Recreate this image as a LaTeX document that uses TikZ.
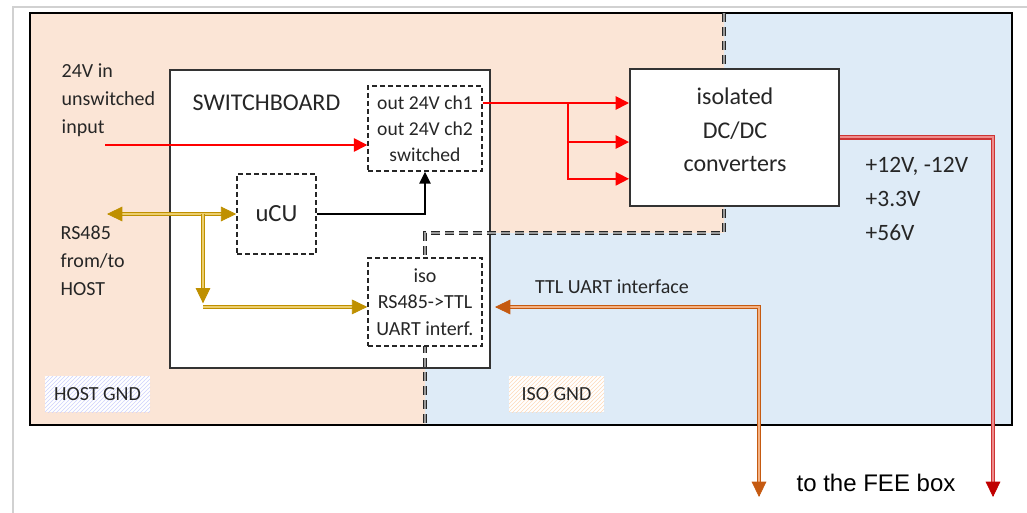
\documentclass[tikz,border=0pt]{standalone}
\usepackage{fontspec}
\setmainfont{Carlito}
\newfontfamily\arialfont{Liberation Sans}
\usetikzlibrary{arrows.meta,patterns}
\definecolor{peach}{RGB}{251,229,214}
\definecolor{paleblue}{RGB}{222,235,247}
\definecolor{gold}{RGB}{191,144,0}
\definecolor{goldlight}{RGB}{236,206,110}
\definecolor{rust}{RGB}{197,90,17}
\definecolor{rustlight}{RGB}{244,177,131}
\definecolor{darkred}{RGB}{192,0,0}
\definecolor{pinkred}{RGB}{238,140,140}
\definecolor{ink}{RGB}{38,38,38}
\begin{document}
\begin{tikzpicture}[x=0.75pt,y=-0.75pt,
    font=\fontsize{15}{20}\selectfont,text=ink,
    board/.style={draw=black!80,line width=1.5pt,fill=white,inner sep=0pt},
    block/.style={draw=black!85,line width=1.1pt,dash pattern=on 4pt off 2pt,
      fill=white,align=center,inner sep=0pt},
    pwr/.style={red,line width=1.2pt,-{Triangle[length=10pt,width=10pt]}},
    ctrl/.style={black,line width=1.2pt,-{Triangle[length=9pt,width=8.5pt]}},
    bus/.style={draw=gold,line width=0.8pt,double=goldlight,double distance=1.3pt},
    ttl/.style={draw=rust,line width=0.8pt,double=rustlight,double distance=1.3pt},
    supply/.style={draw=darkred!80,line width=0.8pt,double=pinkred,double distance=1.5pt},
    tip/.style={line width=0.6pt,-{Triangle[length=11.5pt,width=11pt]}},
    gndtag/.style={minimum height=27pt,inner sep=0pt,text=ink}]
  \useasboundingbox (0,0) rectangle (1027,513);
  \draw[black!18,line width=1.5pt] (13,513) -- (13,7) -- (1027,7);
  \fill[paleblue] (30,13) rectangle (1012,425);
  \fill[peach] (30,13) -- (724,13) -- (724,233) -- (425,233) -- (425,425) -- (30,425) -- cycle;
  \draw[black,line width=2.2pt] (30,13) rectangle (1012,425);
  \node[board,minimum width=240pt,minimum height=223.5pt] (sw) at (330,219) {};
  \node[anchor=west,font=\fontsize{18}{20}\selectfont] (swname) at (188,103) {SWITCHBOARD};
  \draw[black!85,line width=0.9pt,double=black!40,double distance=0.8pt,
    dash pattern=on 7pt off 3.5pt] (724,13) -- (724,233) -- (425,233) -- (425,425);
  \node[board,minimum width=156.75pt,minimum height=102.75pt] (dcdc) at (734.5,137.5) {};
  \node[align=center,font=\fontsize{18}{25}\selectfont] (dcdcname) at (735,130)
    {isolated\\DC/DC\\converters};
  \node[block,minimum width=85.5pt,minimum height=63.75pt,
    font=\fontsize{14.7}{19.5}\selectfont] (outsw) at (425,128.5)
    {out 24V ch1\\out 24V ch2\\switched};
  \node[block,minimum width=59.25pt,minimum height=60pt,
    font=\fontsize{18.5}{20}\selectfont] (ucu) at (276.5,214) {uCU};
  \node[block,minimum width=85.5pt,minimum height=66pt] (iso) at (425,302)
    {iso\\RS485->TTL\\UART interf.};
  \node[anchor=west,align=left,font=\fontsize{15}{21}\selectfont] (vin) at (57,100)
    {24V in\\unswitched\\input};
  \node[anchor=west,align=left,font=\fontsize{15}{21}\selectfont] (host) at (56,261)
    {RS485\\from/to\\HOST};
  \node[anchor=west,align=left,font=\fontsize{17.6}{25.5}\selectfont] (volts) at (861,199)
    {+12V, -12V\\+3.3V\\+56V};
  \node (ttlname) at (612,287) {TTL UART interface};
  \node[gndtag,minimum width=78.75pt,fill=white,
    postaction={pattern=north east lines,pattern color=paleblue!60!blue!40}] (hostgnd)
    at (97.5,394) {HOST GND};
  \node[gndtag,minimum width=71.25pt,fill=white,
    postaction={pattern=north east lines,pattern color=peach!60!orange!55}] (isognd)
    at (556.5,394) {ISO GND};
  \node[font=\arialfont\fontsize{18}{20}\selectfont,text=black] (feename) at (876,483)
    {to the FEE box};
  \coordinate (in24) at (105,145);
  \coordinate (split) at (568,103);
  \coordinate (rs) at (107,214);
  \coordinate (tap) at (203,214);
  \coordinate (tapend) at ([yshift=-1pt]tap |- iso.west);
  \coordinate (isoin) at ([yshift=-3.7pt]iso.west);
  \coordinate (ttlbend) at (759,307);
  \coordinate (ttlend) at ([xshift=3pt]ttlbend -| sw.east);
  \coordinate (fee1) at (759,497);
  \coordinate (fee2) at (993,497);
  \draw[pwr] (in24) -- (in24 -| outsw.west);
  \draw[pwr] (outsw.east |- split) -- (split -| dcdc.west);
  \draw[pwr] (split) |- ([yshift=-3.4pt]dcdc.west);
  \draw[pwr] (split) |- ([yshift=-31pt]dcdc.west);
  \draw[ctrl] (ucu.east) -| (outsw.south);
  \draw[bus,shorten <=6pt,shorten >=6pt] (rs) -- (rs -| ucu.west);
  \draw[gold,tip] ([xshift=1pt]rs) -- (rs);
  \draw[gold,tip] ([xshift=-1pt]rs -| ucu.west) -- (rs -| ucu.west);
  \draw[bus,shorten >=6pt] (tap) -- (tapend);
  \draw[gold,tip] ([yshift=1pt]tapend) -- (tapend);
  \draw[bus,shorten >=6pt] (isoin -| tap) -- (isoin);
  \draw[gold,tip] ([xshift=-1pt]isoin) -- (isoin);
  \draw[ttl,shorten <=6pt,shorten >=6pt] (ttlend) -- (ttlbend) -- (fee1);
  \draw[rust,tip] ([xshift=1pt]ttlend) -- (ttlend);
  \draw[rust,tip] ([yshift=1pt]fee1) -- (fee1);
  \draw[supply,shorten >=6pt] (dcdc.east) -| (fee2);
  \draw[darkred,tip] ([yshift=1pt]fee2) -- (fee2);
\end{tikzpicture}
\end{document}
